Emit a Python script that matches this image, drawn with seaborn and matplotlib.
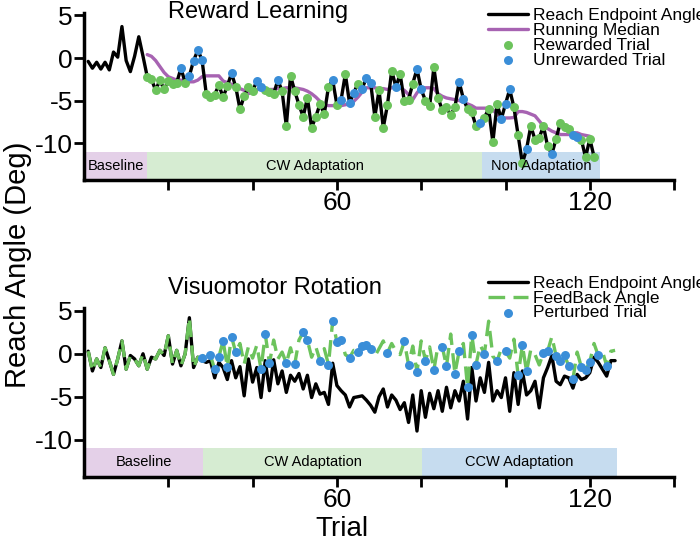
import pandas as pd
import seaborn as sns
import matplotlib.pyplot as plt

# ---- Reward Learning block (trials 1-121) ----
rl_reach = [-0.4, -1.2, -0.5, -1.3, -0.5, -1.4, 0.7, 0.1, 3.7, -0.3,
            -1.6, 0.2, 2.5, 0.2, -2.2, -2.5, -3.8, -2.6, -3.7, -2.7,
            -3.0, -2.9, -1.2, -2.9, -2.1, -0.3, 0.9, -0.2, -4.2, -4.6,
            -4.3, -3.2, -4.6, -3.3, -1.8, -3.4, -6.0, -4.5, -3.4, -3.9,
            -2.7, -3.4, -3.8, -4.0, -4.2, -2.6, -3.9, -8.0, -2.1, -3.9,
            -5.5, -6.9, -4.7, -8.2, -6.9, -5.4, -6.6, -3.4, -2.6, -5.5,
            -4.9, -1.9, -5.3, -4.1, -3.0, -3.6, -2.3, -2.9, -6.9, -3.8,
            -8.2, -5.5, -1.5, -3.4, -1.9, -5.1, -4.9, -3.0, -1.3, -3.7,
            -5.0, -5.7, -1.1, -4.7, -6.1, -5.8, -6.7, -5.8, -2.8, -4.8,
            -6.0, -6.4, -8.0, -7.7, -7.0, -6.0, -9.9, -5.4, -7.2, -5.4,
            -3.7, -5.8, -9.1, -12.4, -10.7, -8.0, -9.6, -9.4, -8.0, -10.4,
            -11.3, -9.5, -7.6, -8.1, -8.4, -9.0, -9.3, -9.6, -11.7, -9.5,
            -11.6]
rl_median_start = 15
rl_median = [0.4, 0.2, -0.3, -1.0, -1.7, -2.2, -2.4, -2.6, -2.6, -2.7,
             -2.8, -2.8, -2.6, -2.2, -2.1, -2.1, -2.1, -2.1, -2.7, -2.9,
             -3.1, -3.3, -3.6, -3.8, -4.2, -4.0, -3.7, -3.7, -3.7, -3.7,
             -3.7, -3.6, -3.6, -3.5, -3.5, -3.5, -3.6, -3.7, -3.9, -4.2,
             -4.6, -5.1, -5.5, -5.6, -5.6, -5.6, -5.6, -5.5, -5.4, -5.1,
             -4.6, -4.0, -3.5, -3.5, -3.5, -3.6, -3.6, -3.7, -3.5, -3.4,
             -3.5, -3.8, -4.3, -4.9, -4.1, -3.5, -3.5, -3.5, -3.6, -4.2,
             -4.5, -4.7, -4.8, -4.9, -5.0, -5.2, -5.4, -5.6, -5.9, -5.9,
             -5.9, -5.9, -6.1, -6.6, -7.05, -7.05, -7.05, -7.0, -6.3, -6.3,
             -6.4, -6.6, -6.8, -7.4, -8.0, -8.3, -8.6, -8.8, -9.0, -9.0,
             -9.0, -8.8, -8.8, -9.0, -9.1, -9.2]
rl_first_feedback_trial = 15
rl_unrewarded = [23, 25, 26, 27, 28, 35, 41, 42, 46, 59, 61, 63, 64, 66, 67,
                 68, 74, 79, 80, 89, 90, 94, 99, 100, 101, 105, 111, 116, 117]
rl_phases = ["Baseline", "CW Adaptation", "Non Adaptation"]
rl_edges = [0, 15, 94.5, 122.5]

# ---- Visuomotor Rotation block (trials 1-126) ----
vm_reach = [0.3, -2.0, -0.6, -1.6, 0.7, -0.8, -2.4, -0.6, 1.5, -1.8,
            -0.2, -0.6, -1.4, 0.0, -1.8, -0.4, -0.6, 0.4, -0.2, 2.1,
            -1.2, 0.4, -1.4, 0.0, 4.2, -1.6, -0.4, -0.8, -1.0, -0.8,
            -2.8, -1.0, -1.6, -3.0, -0.8, -2.8, -1.5, -4.9, -0.6, -3.3,
            -1.6, -5.1, -0.8, -4.3, -0.7, -3.5, -2.0, -4.5, -2.5, -3.2,
            -2.3, -4.1, -2.5, -5.1, -3.5, -4.7, -4.5, -5.9, -1.1, -3.7,
            -4.3, -4.8, -6.2, -5.1, -5.0, -4.9, -5.4, -6.0, -6.8, -5.0,
            -4.1, -6.2, -4.8, -5.4, -6.5, -5.7, -8.0, -4.8, -9.0, -4.3,
            -7.4, -4.6, -6.4, -4.3, -6.7, -3.9, -6.3, -4.3, -5.5, -3.2,
            -7.6, -1.6, -5.5, -2.8, -4.5, -1.0, -5.5, -4.3, -5.1, -2.8,
            -6.7, -2.2, -5.9, -2.0, -4.8, -4.3, -3.2, -6.3, -2.8, -1.6,
            -0.2, -3.2, -3.6, -2.6, -2.8, -4.0, -2.4, -3.0, -2.8, -2.2,
            -0.4, -1.0, -1.8, -2.6, -0.8, -0.8]
vm_feedback = [0.3, -2.0, -0.6, -1.6, 0.7, -0.8, -2.4, -0.6, 1.5, -1.8,
               -0.2, -0.6, -1.4, 0.0, -1.8, -0.4, -0.6, 0.4, -0.2, 2.1,
               -1.2, 0.4, -1.4, 0.0, 4.2, -1.6, -0.4, -0.5, 0.3, -0.2,
               -1.8, -0.35, 1.5, -1.5, 2.0, 0.15, 1.2, -1.2, 0.8, -0.5,
               1.0, -1.8, 2.3, -1.1, 1.6, -0.6, 0.2, -1.1, 0.7, -1.2,
               1.6, 2.5, 1.6, -0.4, 0.8, -0.8, 0.6, -1.25, 3.85, 1.35,
               1.6, -0.1, -0.45, 0.4, 0.25, 0.9, 1.0, 0.5, -0.3, 0.6,
               1.5, 0.12, 1.2, 0.3, -0.1, 1.45, -1.3, 0.9, -2.1, 1.5,
               -0.8, 0.8, -1.9, 1.0, 0.8, -1.45, 2.3, -2.3, 0.3, 1.2,
               -3.9, 2.2, -1.25, 1.0, 0.03, 3.8, -0.3, -0.85, 0.6, 0.27,
               -0.5, 1.7, -2.5, 1.0, -2.05, 0.5, -0.1, -1.3, 0.12, 0.3,
               2.0, -0.25, -0.8, -0.2, -1.4, -2.95, 0.2, -1.55, -1.9, -0.95,
               1.2, -0.2, 0.3, -1.4, 0.3, 0.4]
vm_perturbed = [28, 30, 31, 32, 33, 34, 35, 36, 42, 43, 44, 48, 50, 52, 53,
                56, 58, 59, 60, 61, 63, 65, 66, 67, 68, 72, 76, 77, 79, 81,
                83, 85, 86, 88, 89, 91, 92, 93, 95, 98, 100, 103, 104, 105,
                109, 110, 112, 113, 114, 115, 116, 118, 119, 120, 122, 124]
vm_phases = ["Baseline", "CW Adaptation", "CCW Adaptation"]
vm_edges = [0, 28.3, 80.1, 126.5]

phase_colors = ["#e4d0e8", "#d6ecd2", "#c6dcef"]
black = "#000000"
purple = "#a763b2"
green = "#6cc35c"
blue = "#3a8ed8"

sns.set_style("ticks")
plt.rcParams["font.family"] = ["Liberation Sans", "DejaVu Sans"]
for key in ("text.color", "axes.labelcolor", "xtick.color", "ytick.color",
            "axes.edgecolor"):
    plt.rcParams[key] = "black"

fig = plt.figure(figsize=(7, 5.46), dpi=100)
ax1 = fig.add_axes([0.12, 0.6703, 0.843, 0.306])
ax2 = fig.add_axes([0.12, 0.1264, 0.843, 0.309])


def draw_phases(ax, names, edges):
    for i, name in enumerate(names):
        ax.fill_between([edges[i], edges[i + 1]], -14.35, -11.0,
                        color=phase_colors[i], lw=0, zorder=0)
        ax.text((edges[i] + edges[i + 1]) / 2, -12.65, name, fontsize=10.5,
                ha="center", va="center", zorder=5)


# top panel
rl_df = pd.DataFrame({"trial": range(1, len(rl_reach) + 1), "angle": rl_reach})
med_df = pd.DataFrame({"trial": range(rl_median_start, rl_median_start + len(rl_median)),
                       "angle": rl_median})
fb_df = rl_df[rl_df.trial >= rl_first_feedback_trial]
rew_df = fb_df[~fb_df.trial.isin(rl_unrewarded)]
unrew_df = fb_df[fb_df.trial.isin(rl_unrewarded)]

draw_phases(ax1, rl_phases, rl_edges)
sns.lineplot(data=rl_df, x="trial", y="angle", color=black, lw=2.4,
             label="Reach Endpoint Angle", ax=ax1, zorder=2)
sns.lineplot(data=med_df, x="trial", y="angle", color=purple, lw=2.4,
             label="Running Median", ax=ax1, zorder=1)
sns.scatterplot(data=rew_df, x="trial", y="angle", color=green, s=42,
                linewidth=0, label="Rewarded Trial", ax=ax1, zorder=3)
sns.scatterplot(data=unrew_df, x="trial", y="angle", color=blue, s=42,
                linewidth=0, label="Unrewarded Trial", ax=ax1, zorder=3)
ax1.text(20, 4.65, "Reward Learning", fontsize=17, ha="left", va="baseline")

# bottom panel
vm_df = pd.DataFrame({"trial": range(1, len(vm_reach) + 1), "reach": vm_reach,
                      "feedback": vm_feedback})
pert_df = vm_df[vm_df.trial.isin(vm_perturbed)]

draw_phases(ax2, vm_phases, vm_edges)
sns.lineplot(data=vm_df, x="trial", y="reach", color=black, lw=2.4,
             label="Reach Endpoint Angle", ax=ax2, zorder=2)
sns.lineplot(data=vm_df, x="trial", y="feedback", color=green, lw=2.4,
             dashes=False, label="FeedBack Angle", ax=ax2, zorder=2.5)
ax2.lines[-1].set_dashes((5, 2.5))
sns.scatterplot(data=pert_df, x="trial", y="feedback", color=blue, s=42,
                linewidth=0, label="Perturbed Trial", ax=ax2, zorder=3)
ax2.text(20, 7.0, "Visuomotor Rotation", fontsize=17, ha="left",
         va="baseline", clip_on=False)

for ax in (ax1, ax2):
    ax.set_xlim(0, 140)
    ax.set_ylim(-14.35, 5.3)
    ax.set_xticks([20, 40, 60, 80, 100, 120, 140])
    ax.set_xticklabels(["", "", "60", "", "", "120", ""])
    ax.set_yticks([5, 0, -5, -10])
    ax.set_yticklabels(["5", "0", "-5", "-10"])
    ax.tick_params(labelsize=19, length=7, width=2, pad=1, colors="black")
    ax.set_xlabel("")
    ax.set_ylabel("")
    for side in ("left", "bottom"):
        ax.spines[side].set_linewidth(2.5)
        ax.spines[side].set_color("black")
    sns.despine(ax=ax)

legend_kw = dict(loc="upper left", bbox_transform=fig.transFigure,
                 frameon=False, fontsize=12.5, handlelength=2.3,
                 handletextpad=0.3, labelspacing=-0.02, borderpad=0,
                 borderaxespad=0)
ax1.legend(bbox_to_anchor=(0.697, 0.985), **legend_kw)
ax2.legend(bbox_to_anchor=(0.697, 0.495), **legend_kw)

fig.text(0.026, 0.515, "Reach Angle (Deg)", rotation=90, fontsize=21,
         ha="center", va="center")
fig.text(0.489, 0.032, "Trial", fontsize=20, ha="center", va="center")

fig.savefig("out.png", dpi=100)
